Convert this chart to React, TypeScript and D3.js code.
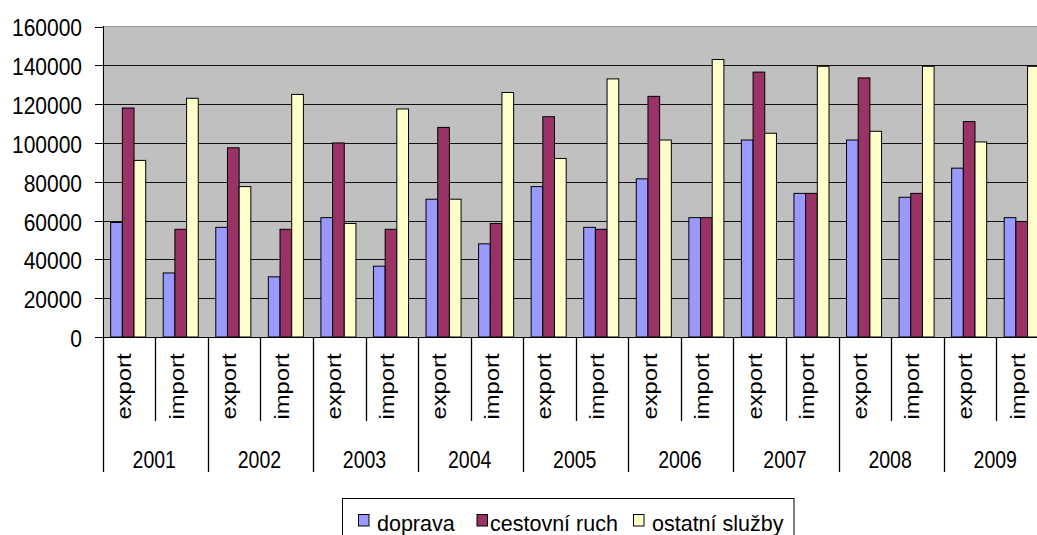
import React from "react";
import * as d3 from "d3";

// ---- data ----
const years = ["2001", "2002", "2003", "2004", "2005", "2006", "2007", "2008", "2009"];
const flows = ["export", "import"];
const seriesNames = ["doprava", "cestovní ruch", "ostatní služby"];
const doprava = [59000, 33000, 56500, 31000, 61500, 36500, 71000, 48000, 77500, 56500, 81500, 61500, 101500, 74000, 101500, 72000, 87000, 61500];
const cestovniRuch = [118000, 55500, 97500, 55500, 100000, 55500, 108000, 58500, 113500, 55500, 124000, 61500, 136500, 74000, 133500, 74000, 111000, 59500];
const ostatniSluzby = [91000, 123000, 77500, 125000, 58500, 117500, 71000, 126000, 92000, 133000, 101500, 143000, 105000, 139500, 106000, 139500, 100500, 139500];
const yTicks = [0, 20000, 40000, 60000, 80000, 100000, 120000, 140000, 160000];

const seriesValues = [doprava, cestovniRuch, ostatniSluzby];
const seriesColors = ["#9999FF", "#993366", "#FFFFCC"];

const W = 1037;
const H = 535;
const plotLeft = 102.7;
const plotRight = 1048.8;
const plotTop = 26.5;
const plotBottom = 337;
const FONT = "Arial, 'Liberation Sans', sans-serif";

const catKeys: string[] = [];
years.forEach((y) => flows.forEach((f) => catKeys.push(`${y}-${f}`)));

export default function App() {
  const xCat = d3.scaleBand<string>().domain(catKeys).range([plotLeft, plotRight]).padding(0);
  const xSub = d3
    .scaleBand<string>()
    .domain(seriesNames)
    .range([0, xCat.bandwidth()])
    .paddingInner(0)
    .paddingOuter(0.75);
  const y = d3.scaleLinear().domain([0, 160000]).range([plotBottom, plotTop]);
  const crisp = (v: number) => Math.round(v) + 0.5;

  const legendSwatchX = [358, 476.5, 633];
  const legendTextX = [377, 490, 652];

  return (
    <svg
      width={W}
      height={H}
      style={{ position: "absolute", left: 0, top: 0, background: "#fff" }}
      fontFamily={FONT}
    >
      {/* plot background */}
      <rect x={plotLeft} y={plotTop} width={plotRight - plotLeft} height={plotBottom - plotTop} fill="#C0C0C0" />
      {/* top border */}
      <line x1={plotLeft} x2={plotRight} y1={crisp(plotTop) - 1} y2={crisp(plotTop) - 1} stroke="#999" strokeWidth={1} />
      {/* gridlines */}
      {yTicks
        .filter((t) => t > 0 && t < 160000)
        .map((t) => (
          <line key={t} x1={plotLeft} x2={plotRight} y1={crisp(y(t))} y2={crisp(y(t))} stroke="#111" strokeWidth={1} />
        ))}
      {/* bars */}
      {catKeys.map((k, ci) =>
        seriesNames.map((s, si) => {
          const v = seriesValues[si][ci];
          const x0 = (xCat(k) as number) + (xSub(s) as number) - 0.8;
          const yy = y(v);
          return (
            <rect
              key={`${k}-${s}`}
              x={x0}
              y={yy}
              width={xSub.bandwidth()}
              height={plotBottom - yy}
              fill={seriesColors[si]}
              stroke="#000"
              strokeWidth={1}
            />
          );
        })
      )}
      {/* y axis */}
      <line x1={crisp(plotLeft)} x2={crisp(plotLeft)} y1={plotTop - 0.5} y2={plotBottom + 1} stroke="#000" strokeWidth={1} />
      {yTicks.map((t) => (
        <g key={t}>
          <line x1={95} x2={plotLeft} y1={crisp(y(t))} y2={crisp(y(t))} stroke="#000" strokeWidth={1} />
          <text
            transform={`translate(82, ${y(t)}) scale(1, 1.13)`}
            y={8.8}
            textAnchor="end"
            fontSize={21}
            fill="#000"
          >
            {t}
          </text>
        </g>
      ))}
      {/* x axis */}
      <line x1={plotLeft} x2={plotRight} y1={crisp(plotBottom)} y2={crisp(plotBottom)} stroke="#000" strokeWidth={1} />
      {[...catKeys.map((k) => xCat(k) as number), plotRight].map((xv, i) => (
        <line
          key={i}
          x1={crisp(xv)}
          x2={crisp(xv)}
          y1={plotBottom}
          y2={i % 2 === 0 ? 472 : 421}
          stroke="#000"
          strokeWidth={1.3}
        />
      ))}
      {catKeys.map((k, i) => {
        const cx = (xCat(k) as number) + xCat.bandwidth() / 2;
        return (
          <text
            key={k}
            transform={`translate(${cx + 2}, 386.5) scale(1, 1.19) rotate(-90)`}
            textAnchor="middle"
            fontSize={20}
            fill="#000"
          >
            {flows[i % 2]}
          </text>
        );
      })}
      {years.map((yr) => {
        const cx = (xCat(`${yr}-import`) as number);
        return (
          <text
            key={yr}
            transform={`translate(${cx - 1}, 468.3) scale(1, 1.19)`}
            textAnchor="middle"
            fontSize={19.5}
            fill="#000"
          >
            {yr}
          </text>
        );
      })}
      {/* legend */}
      <rect x={342.5} y={498.5} width={451.5} height={60} fill="#fff" stroke="#000" strokeWidth={1} />
      {seriesNames.map((s, i) => (
        <g key={s}>
          <rect x={legendSwatchX[i] + 0.5} y={514.5} width={10.5} height={11.5} fill={seriesColors[i]} stroke="#000" strokeWidth={1} />
          <text x={legendTextX[i]} y={530.5} fontSize={21.5} fill="#000">
            {s}
          </text>
        </g>
      ))}
    </svg>
  );
}
